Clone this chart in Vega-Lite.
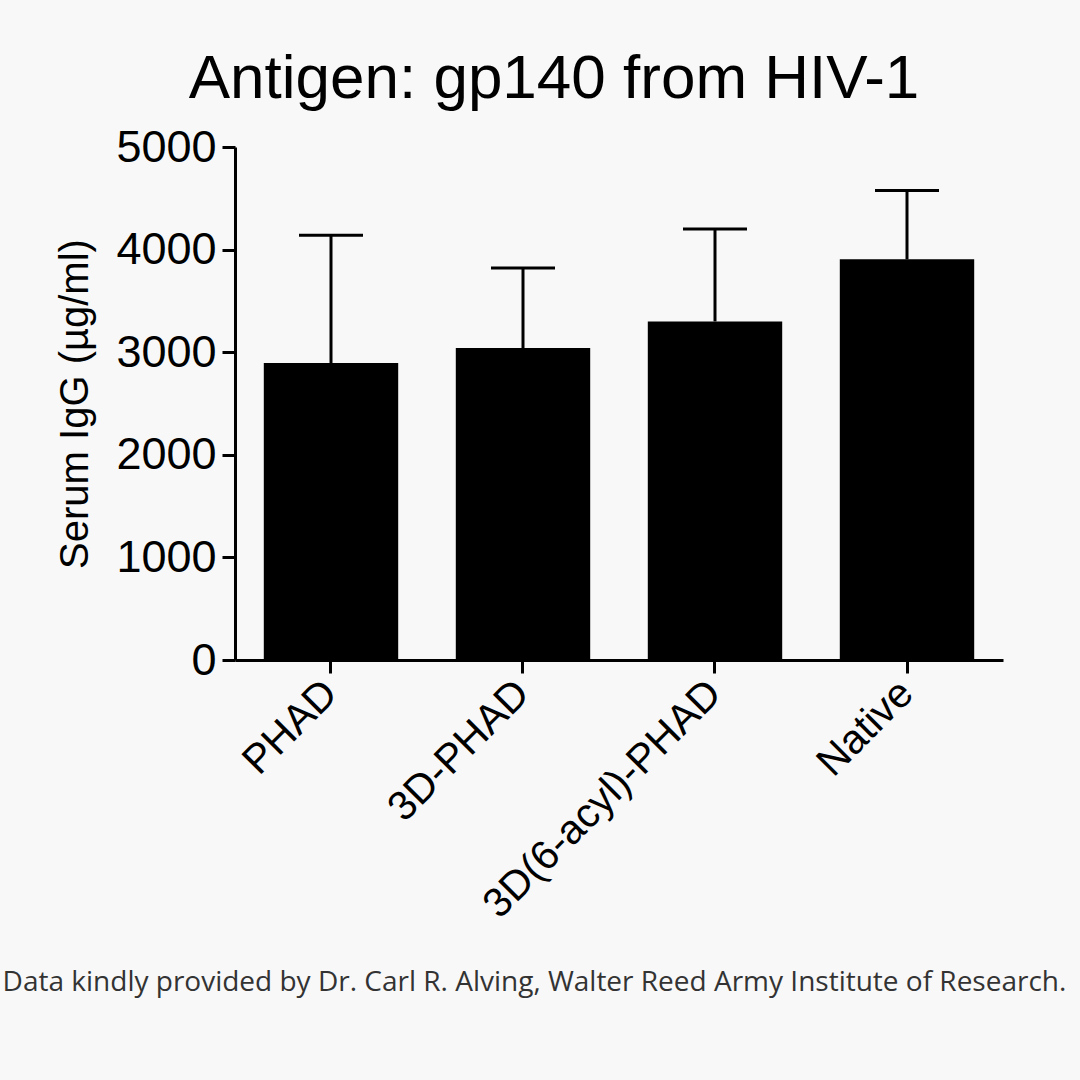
{
  "$schema": "https://vega.github.io/schema/vega-lite/v6.json",
  "width": 768,
  "height": 513,
  "autosize": "none",
  "padding": {"left": 235, "top": 147, "right": 77, "bottom": 420},
  "background": "#f8f8f8",
  "title": {
    "text": "Antigen: gp140 from HIV-1",
    "font": "Liberation Sans",
    "fontSize": 62,
    "fontWeight": "normal",
    "color": "#000000",
    "anchor": "middle",
    "dx": -65,
    "dy": 55,
    "baseline": "alphabetic",
    "offset": 20
  },
  "data": {
    "values": [
      {"group": "PHAD", "mean": 2895, "upper": 4140},
      {"group": "3D-PHAD", "mean": 3040, "upper": 3820},
      {"group": "3D(6-acyl)-PHAD", "mean": 3300, "upper": 4200},
      {"group": "Native", "mean": 3905, "upper": 4575}
    ]
  },
  "encoding": {
    "x": {
      "field": "group",
      "type": "nominal",
      "sort": null,
      "scale": {"paddingInner": 0.3, "paddingOuter": 0.15},
      "axis": {
        "title": "Data kindly provided by Dr. Carl R. Alving, Walter Reed Army Institute of Research.",
        "titleFont": "Open Sans",
        "titleFontSize": 28,
        "titleFontWeight": "normal",
        "titleColor": "#333333",
        "titleAnchor": null,
        "titleAlign": "center",
        "titleBaseline": "alphabetic",
        "titleX": 299,
        "titleY": 330,
        "labelAngle": -45,
        "labelAlign": "right",
        "labelBaseline": "middle",
        "labelFont": "Liberation Sans",
        "labelFontSize": 41,
        "labelColor": "#000000",
        "labelPadding": 14,
        "labelLimit": 0,
        "domainColor": "#000000",
        "domainWidth": 3,
        "tickColor": "#000000",
        "tickWidth": 3,
        "tickSize": 13,
        "grid": false
      }
    }
  },
  "layer": [
    {
      "mark": {"type": "bar", "color": "#000000"},
      "encoding": {
        "y": {
          "field": "mean",
          "type": "quantitative",
          "scale": {"domain": [0, 5000], "nice": false},
          "axis": {
            "title": "Serum IgG (µg/ml)",
            "titleFont": "Liberation Sans",
            "titleFontSize": 40,
            "titleFontWeight": "normal",
            "titleColor": "#000000",
            "titlePadding": 20,
            "values": [0, 1000, 2000, 3000, 4000, 5000],
            "format": "d",
            "labelFont": "Liberation Sans",
            "labelFontSize": 45,
            "labelColor": "#000000",
            "labelPadding": 6,
            "domainColor": "#000000",
            "domainWidth": 3,
            "tickColor": "#000000",
            "tickWidth": 3,
            "tickSize": 13,
            "grid": false
          }
        }
      }
    },
    {
      "mark": {"type": "rule", "color": "#000000", "strokeWidth": 3, "opacity": 1},
      "encoding": {
        "y": {"field": "mean", "type": "quantitative"},
        "y2": {"field": "upper"}
      }
    },
    {
      "mark": {"type": "tick", "color": "#000000", "thickness": 3, "size": 64, "orient": "horizontal", "opacity": 1},
      "encoding": {
        "y": {"field": "upper", "type": "quantitative"}
      }
    }
  ],
  "config": {
    "view": {"stroke": null}
  }
}
